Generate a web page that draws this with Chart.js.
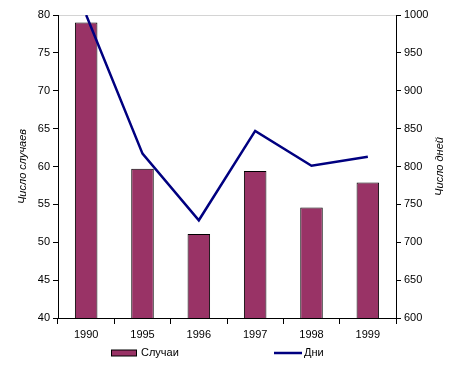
<!DOCTYPE html>
<html>
<head>
<meta charset="utf-8">
<script src="https://cdn.jsdelivr.net/npm/chart.js@4"></script>
<style>
  html, body { margin: 0; padding: 0; background: #fff; }
  #wrap { width: 467px; height: 372px; }
</style>
</head>
<body>
<div id="wrap"><canvas id="chart" width="467" height="372"></canvas></div>
<script>
// данные графика
const years = ["1990", "1995", "1996", "1997", "1998", "1999"];
const cases = [79.0, 59.7, 51.1, 59.4, 54.6, 57.9];
const days = [1000, 817, 729, 847, 801, 813];
const leftTitle = "Число случаев";
const rightTitle = "Число дней";

const FONT = "'Liberation Sans', Arial, sans-serif";
Chart.defaults.font.family = FONT;
Chart.defaults.font.size = 11;
Chart.defaults.color = "#000";

// подпись правой оси рисуем сами, снизу вверх
const rightTitlePlugin = {
  id: "rightTitle",
  afterDraw(chart) {
    const y1 = chart.scales.y1;
    const ctx = chart.ctx;
    ctx.save();
    ctx.translate(y1.right - 27, (y1.top + y1.bottom) / 2);
    ctx.rotate(-Math.PI / 2);
    ctx.font = "italic 11px " + FONT;
    ctx.fillStyle = "#000";
    ctx.textAlign = "center";
    ctx.textBaseline = "middle";
    ctx.fillText(rightTitle, 0, 0);
    ctx.restore();
  },
};

// легенда внизу, элементы разнесены как в оригинале
const legendPlugin = {
  id: "wideLegend",
  afterDraw(chart) {
    const ctx = chart.ctx;
    const y = chart.height - 19;
    const bars = chart.data.datasets[1];
    const line = chart.data.datasets[0];
    ctx.save();
    ctx.font = "11px " + FONT;
    ctx.textBaseline = "middle";
    ctx.fillStyle = "#000";

    // Случаи
    ctx.fillStyle = bars.backgroundColor;
    ctx.fillRect(111.5, y - 3, 25, 6);
    ctx.strokeStyle = "#000";
    ctx.lineWidth = 1;
    ctx.strokeRect(111.5, y - 3, 25, 6);
    ctx.fillStyle = "#000";
    ctx.fillText(bars.label, 141, y);

    // Дни
    ctx.strokeStyle = line.borderColor;
    ctx.lineWidth = 2.5;
    ctx.beginPath();
    ctx.moveTo(274, y);
    ctx.lineTo(302, y);
    ctx.stroke();
    ctx.fillText(line.label, 304, y);
    ctx.restore();
  },
};

new Chart(document.getElementById("chart"), {
  data: {
    labels: years,
    datasets: [
      {
        type: "line",
        label: "Дни",
        data: days,
        yAxisID: "y1",
        borderColor: "#000080",
        backgroundColor: "#000080",
        borderWidth: 2.5,
        pointRadius: 0,
        tension: 0,
        order: 0,
      },
      {
        type: "bar",
        label: "Случаи",
        data: cases,
        yAxisID: "y",
        backgroundColor: "#993366",
        borderColor: "#000",
        borderWidth: 1,
        barPercentage: 0.4,
        categoryPercentage: 1,
        order: 1,
      },
    ],
  },
  options: {
    responsive: false,
    animation: false,
    layout: { padding: { top: 15, bottom: 26, left: 0, right: 0 } },
    scales: {
      x: {
        offset: true,
        grid: {
          offset: true,
          drawOnChartArea: false,
          tickLength: 6,
          tickColor: "#000",
        },
        border: { color: "#000", width: 1 },
        ticks: { padding: 4 },
        afterFit(s) { s.height = 28; },
      },
      y: {
        position: "left",
        min: 40,
        max: 80,
        ticks: { stepSize: 5, padding: 3 },
        grid: {
          color: (c) => (c.tick && c.tick.value === 80 ? "#d4d4d4" : "rgba(0,0,0,0)"),
          tickColor: "#000",
          tickLength: 5,
        },
        border: { color: "#000", width: 1 },
        title: {
          display: true,
          text: leftTitle,
          font: { style: "italic", size: 11 },
          padding: { top: 16, bottom: 0 },
        },
        afterFit(s) { s.width = 58; },
      },
      y1: {
        position: "right",
        min: 600,
        max: 1000,
        ticks: {
          stepSize: 50,
          padding: 3,
          callback: (v) => String(v),
        },
        grid: { drawOnChartArea: false, tickColor: "#000", tickLength: 5 },
        border: { color: "#000", width: 1 },
        afterFit(s) { s.width = 71; },
      },
    },
    plugins: {
      legend: { display: false },
      tooltip: { enabled: false },
    },
  },
  plugins: [rightTitlePlugin, legendPlugin],
});
</script>
</body>
</html>
